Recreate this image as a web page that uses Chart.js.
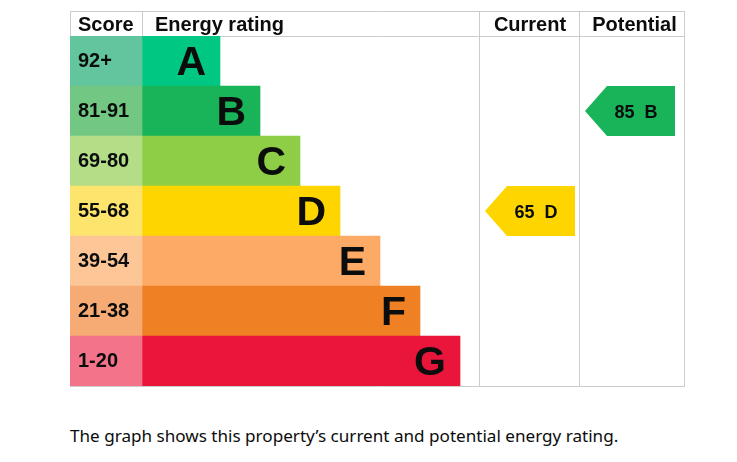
<!DOCTYPE html>
<html>
<head>
<meta charset="utf-8">
<script src="https://cdn.jsdelivr.net/npm/chart.js@4"></script>
<style>
  body { margin: 0; background: #fff; }
  #wrap { position: absolute; left: 0; top: 0; width: 737px; height: 400px; }
  #nota {
    position: absolute; left: 70px; top: 424px; margin: 0;
    font-family: "Noto Sans", sans-serif; font-size: 17.1px; color: #0b0c0c;
  }
</style>
</head>
<body>
<div id="wrap"><canvas id="graficoEpc"></canvas></div>
<p id="nota">The graph shows this property’s current and potential energy rating.</p>

<script>
// faixas de eficiencia energetica
const bandas = ['A', 'B', 'C', 'D', 'E', 'F', 'G'];
const faixasPontuacao = ['92+', '81-91', '69-80', '55-68', '39-54', '21-38', '1-20'];
const comprimentoBarra = [78, 118, 158, 198, 238, 278, 318];
const corBanda = ['#00c781', '#19b459', '#8dce46', '#ffd500', '#fcaa65', '#ef8023', '#e9153b'];
const corPontuacao = ['#63c59d', '#72c883', '#b3dd87', '#fde46d', '#fdc697', '#f6ab74', '#f3738a'];

// classificacao do imovel
const pontuacaoAtual = 65;
const bandaAtual = 'D';
const pontuacaoPotencial = 85;
const bandaPotencial = 'B';

// limites das colunas no eixo x
const fimColunaPontuacao = 72;
const inicioColunaAtual = 410;
const inicioColunaPotencial = 510;
const fimTabela = 615;

const fonte = '"Liberation Sans", Arial, sans-serif';

const pluginTabela = {
    id: 'tabelaEpc',
    beforeDatasetsDraw(chart) {
        const ctx = chart.ctx;
        const x = chart.scales.x;
        const area = chart.chartArea;
        const topo = area.top - 25;
        ctx.save();
        ctx.strokeStyle = '#cccccc';
        ctx.lineWidth = 1;
        ctx.beginPath();
        // linhas horizontais
        ctx.moveTo(area.left, topo + 0.5); ctx.lineTo(area.right, topo + 0.5);
        ctx.moveTo(area.left, area.top + 0.5); ctx.lineTo(area.right, area.top + 0.5);
        ctx.moveTo(area.left, area.bottom + 0.5); ctx.lineTo(area.right, area.bottom + 0.5);
        // linhas verticais
        ctx.moveTo(area.left + 0.5, topo); ctx.lineTo(area.left + 0.5, area.bottom);
        const xp = Math.round(x.getPixelForValue(fimColunaPontuacao)) + 0.5;
        ctx.moveTo(xp, topo); ctx.lineTo(xp, area.top);
        [inicioColunaAtual, inicioColunaPotencial, fimTabela].forEach(function (v) {
            const xv = Math.round(x.getPixelForValue(v)) - 0.5;
            ctx.moveTo(xv, topo); ctx.lineTo(xv, area.bottom + 1);
        });
        ctx.stroke();

        // cabecalho
        ctx.fillStyle = '#0b0c0c';
        ctx.font = 'bold 20px ' + fonte;
        ctx.textBaseline = 'alphabetic';
        ctx.textAlign = 'left';
        ctx.fillText('Score', area.left + 8, topo + 20);
        ctx.fillText('Energy rating', x.getPixelForValue(fimColunaPontuacao) + 13, topo + 20);
        ctx.textAlign = 'center';
        ctx.fillText('Current', (x.getPixelForValue(inicioColunaAtual) + x.getPixelForValue(inicioColunaPotencial)) / 2, topo + 20);
        ctx.fillText('Potential', (x.getPixelForValue(inicioColunaPotencial) + x.getPixelForValue(fimTabela)) / 2 + 2, topo + 20);
        ctx.restore();
    },
    afterDatasetsDraw(chart) {
        const ctx = chart.ctx;
        const x = chart.scales.x;
        const y = chart.scales.y;
        const area = chart.chartArea;
        ctx.save();
        ctx.fillStyle = '#0b0c0c';
        ctx.textBaseline = 'alphabetic';

        bandas.forEach(function (b, i) {
            const yc = y.getPixelForValue(i);
            ctx.font = 'bold 20px ' + fonte;
            ctx.textAlign = 'left';
            ctx.fillText(faixasPontuacao[i], area.left + 8, yc + 6);
            ctx.font = 'bold 41px ' + fonte;
            ctx.textAlign = 'right';
            ctx.fillText(b, x.getPixelForValue(fimColunaPontuacao + comprimentoBarra[i]) - 14, yc + 14);
        });

        // setas de classificacao atual e potencial
        function desenharSeta(inicioColuna, pontuacao, banda) {
            const i = bandas.indexOf(banda);
            const yc = y.getPixelForValue(i);
            const h = (y.getPixelForValue(1) - y.getPixelForValue(0)) / 2;
            const x0 = x.getPixelForValue(inicioColuna) + 5;
            const x1 = x0 + 90;
            ctx.fillStyle = corBanda[i];
            ctx.beginPath();
            ctx.moveTo(x0, yc);
            ctx.lineTo(x0 + 22, yc - h);
            ctx.lineTo(x1, yc - h);
            ctx.lineTo(x1, yc + h);
            ctx.lineTo(x0 + 22, yc + h);
            ctx.closePath();
            ctx.fill();
            ctx.fillStyle = '#0b0c0c';
            ctx.font = 'bold 18px ' + fonte;
            ctx.textAlign = 'center';
            ctx.fillText(pontuacao + '  ' + banda, x0 + 51, yc + 7);
        }
        desenharSeta(inicioColunaAtual, pontuacaoAtual, bandaAtual);
        desenharSeta(inicioColunaPotencial, pontuacaoPotencial, bandaPotencial);
        ctx.restore();
    }
};

const dados = {
    labels: bandas,
    datasets: [{
        label: 'Score',
        data: bandas.map(function () { return [0, fimColunaPontuacao]; }),
        backgroundColor: corPontuacao,
        grouped: false,
        barPercentage: 1,
        categoryPercentage: 1
    }, {
        label: 'Energy rating',
        data: comprimentoBarra.map(function (c) { return [fimColunaPontuacao, fimColunaPontuacao + c]; }),
        backgroundColor: corBanda,
        grouped: false,
        barPercentage: 1,
        categoryPercentage: 1
    }]
};

const grafico = new Chart(document.getElementById('graficoEpc').getContext('2d'), {
    type: 'bar',
    data: dados,
    options: {
        indexAxis: 'y',
        responsive: true,
        maintainAspectRatio: false,
        animation: false,
        layout: { padding: { left: 70, right: 52, top: 36, bottom: 14 } },
        plugins: { legend: { display: false }, tooltip: { enabled: false } },
        scales: {
            x: { type: 'linear', min: 0, max: fimTabela, display: false },
            y: { type: 'category', display: false }
        }
    },
    plugins: [pluginTabela]
});
</script>
</body>
</html>
